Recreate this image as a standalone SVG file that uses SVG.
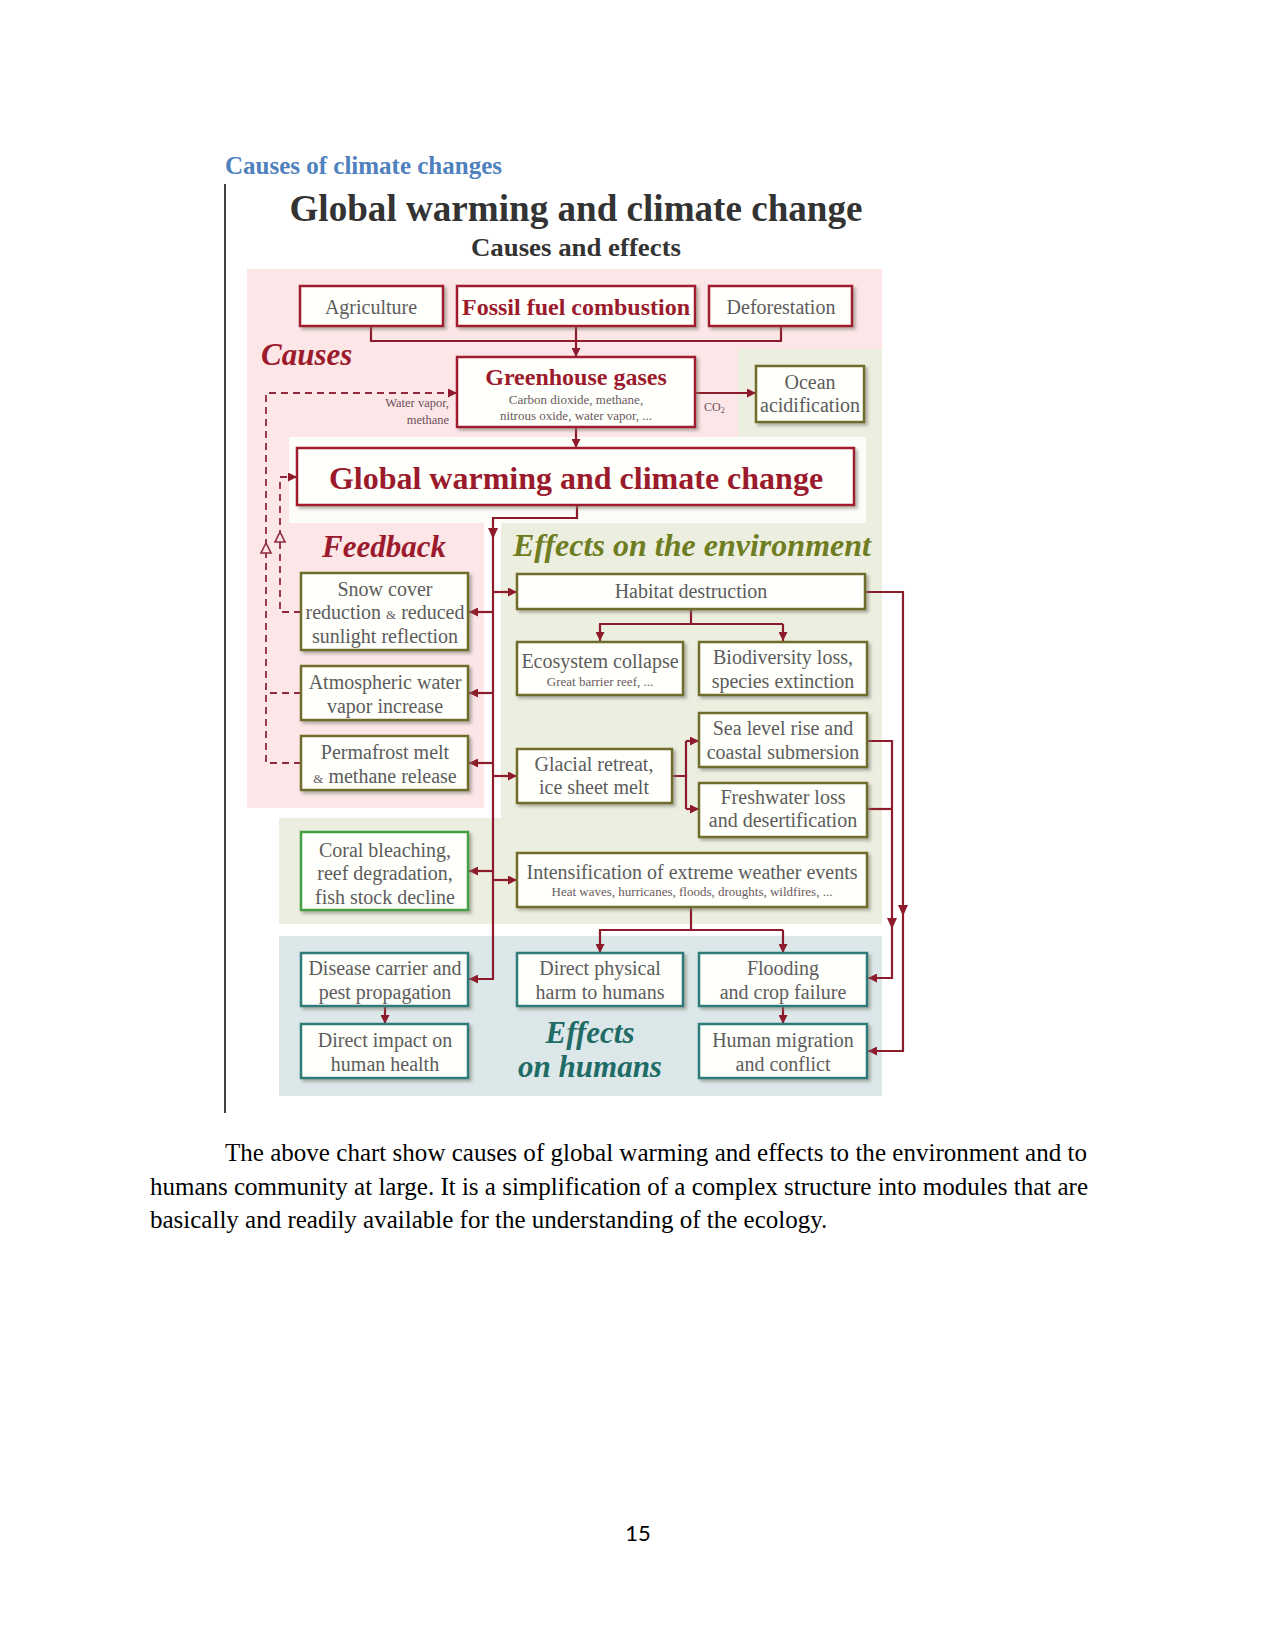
<svg xmlns="http://www.w3.org/2000/svg" width="1275" height="1650" viewBox="0 0 1275 1650">
<defs>
<style>
.bx{fill:#fffffb;stroke-width:2.5;filter:url(#sh)}
.red{stroke:#a01c2e}
.ol{stroke:#6f6c2c}
.gr{stroke:#45a043}
.tl{stroke:#2e7c7a}
.t{font-family:"Liberation Serif",serif;font-size:20px;fill:#5c5c5c;text-anchor:middle}
.s{font-family:"Liberation Serif",serif;font-size:13px;fill:#6a5a5e;text-anchor:middle}
.bt{font-family:"Liberation Serif",serif;font-weight:bold;fill:#9b1b2d;text-anchor:middle}
.sec{font-family:"Liberation Serif",serif;font-weight:bold;font-style:italic}
.c{fill:none;stroke:#8e1b2c;stroke-width:2.2}
.d{fill:none;stroke:#8e2a3c;stroke-width:1.8;stroke-dasharray:7 5}
.body{font-family:"Liberation Serif",serif;font-size:25px;fill:#000}
</style>
<filter id="sh" x="-5%" y="-5%" width="115%" height="130%">
<feDropShadow dx="2.5" dy="2.5" stdDeviation="1.4" flood-color="#77776a" flood-opacity="0.55"/>
</filter>
<marker id="a" viewBox="0 0 10 10" refX="10" refY="5" markerWidth="10" markerHeight="9" markerUnits="userSpaceOnUse" orient="auto">
<path d="M0,0 L10,5 L0,10 z" fill="#8e1b2c"/>
</marker>
</defs>
<rect width="1275" height="1650" fill="#fff"/>

<text x="225" y="174" font-family="'Liberation Serif',serif" font-weight="bold" font-size="25" fill="#4f81bd" textLength="277" lengthAdjust="spacingAndGlyphs">Causes of climate changes</text>
<line x1="225" y1="184" x2="225" y2="1113" stroke="#000" stroke-width="1.5"/>

<g id="panels">
<rect x="247" y="269" width="635" height="168" fill="#fce6e8"/>
<rect x="247" y="437" width="237" height="371" fill="#fce6e8"/>
<rect x="738" y="349" width="144" height="88" fill="#eceee0"/>
<rect x="866" y="437" width="16" height="86" fill="#eceee0"/>
<rect x="289" y="437" width="577" height="86" fill="#fcfcf8"/>
<rect x="501" y="523" width="381" height="401" fill="#eceee0"/>
<rect x="279" y="818" width="222" height="106" fill="#eceee0"/>
<rect x="279" y="936" width="603" height="160" fill="#dbe7e8"/>
</g>

<g id="titles">
<text x="576" y="221" font-family="'Liberation Serif',serif" font-weight="bold" font-size="37" fill="#333" text-anchor="middle" textLength="573" lengthAdjust="spacingAndGlyphs">Global warming and climate change</text>
<text x="576" y="256" font-family="'Liberation Serif',serif" font-weight="bold" font-size="26" fill="#333" text-anchor="middle" textLength="210" lengthAdjust="spacingAndGlyphs">Causes and effects</text>
<text class="sec" x="261" y="365" font-size="31" fill="#9b1b2d">Causes</text>
<text class="sec" x="322" y="557" font-size="31" fill="#9b1b2d">Feedback</text>
<text class="sec" x="513" y="556" font-size="32" fill="#6f7d22" textLength="358" lengthAdjust="spacingAndGlyphs">Effects on the environment</text>
<text class="sec" x="590" y="1043" font-size="31" fill="#1f6b66" text-anchor="middle">Effects</text>
<text class="sec" x="590" y="1077" font-size="31" fill="#1f6b66" text-anchor="middle">on humans</text>
</g>

<g id="connectors">
<path class="c" d="M371,326 V341 H781 V326"/>
<path class="c" d="M576,326 V357" marker-end="url(#a)"/>
<path class="c" d="M695,393 H756" marker-end="url(#a)"/>
<path class="c" d="M576,427 V448" marker-end="url(#a)"/>
<path class="c" d="M577,505 V518 H493 V979 H469" marker-end="url(#a)"/>
<polygon points="488,528 498,528 493,539" fill="#8e1b2c"/>
<path class="c" d="M493,612 H469" marker-end="url(#a)"/>
<path class="c" d="M493,693 H469" marker-end="url(#a)"/>
<path class="c" d="M493,763 H469" marker-end="url(#a)"/>
<path class="c" d="M493,871 H469" marker-end="url(#a)"/>
<path class="c" d="M493,592 H517" marker-end="url(#a)"/>
<path class="c" d="M493,776 H517" marker-end="url(#a)"/>
<path class="c" d="M493,880 H517" marker-end="url(#a)"/>
<path class="c" d="M691,609 V624 M599,624 H783"/>
<path class="c" d="M600,624 V641" marker-end="url(#a)"/>
<path class="c" d="M783,624 V641" marker-end="url(#a)"/>
<path class="c" d="M672,776 H686 M686,741 V809"/>
<path class="c" d="M686,741 H699" marker-end="url(#a)"/>
<path class="c" d="M686,809 H699" marker-end="url(#a)"/>
<path class="c" d="M691,907 V930 M599,930 H783"/>
<path class="c" d="M600,930 V953" marker-end="url(#a)"/>
<path class="c" d="M783,930 V953" marker-end="url(#a)"/>
<path class="c" d="M865,592 H903 V1051 H868" marker-end="url(#a)"/>
<polygon points="898,905 908,905 903,916" fill="#8e1b2c"/>
<path class="c" d="M867,741 H892 V978 H868" marker-end="url(#a)"/>
<path class="c" d="M867,809 H892"/>
<polygon points="887,918 897,918 892,929" fill="#8e1b2c"/>
<path class="c" d="M385,1006 V1024" marker-end="url(#a)"/>
<path class="c" d="M783,1006 V1024" marker-end="url(#a)"/>
<path class="d" d="M301,763 H266 V393 H457" marker-end="url(#a)"/>
<path class="d" d="M301,693 H266"/>
<path class="d" d="M301,612 H280 V477 H297" marker-end="url(#a)"/>
<polygon points="261,553 271,553 266,543" fill="#fce6e8" stroke="#8e2a3c" stroke-width="1.6"/>
<polygon points="275,542 285,542 280,532" fill="#fce6e8" stroke="#8e2a3c" stroke-width="1.6"/>
<text x="449" y="407" font-family="'Liberation Serif',serif" font-size="12.5" fill="#6d5058" text-anchor="end">Water vapor,</text>
<text x="449" y="424" font-family="'Liberation Serif',serif" font-size="12.5" fill="#6d5058" text-anchor="end">methane</text>
<text x="704" y="411" font-family="'Liberation Serif',serif" font-size="12" fill="#6d5058">CO<tspan font-size="8" dy="2">2</tspan></text>
</g>

<g id="agriculture"><rect class="bx red" x="300" y="286" width="143" height="40"/><text class="t" x="371" y="314">Agriculture</text></g>
<g id="fossil"><rect class="bx red" x="457" y="286" width="238" height="40"/><text class="bt" x="576" y="315" font-size="24">Fossil fuel combustion</text></g>
<g id="deforestation"><rect class="bx red" x="709" y="286" width="143" height="40"/><text class="t" x="781" y="314">Deforestation</text></g>
<g id="greenhouse"><rect class="bx red" x="457" y="357" width="238" height="70"/><text class="bt" x="576" y="385" font-size="24">Greenhouse gases</text><text class="s" x="576" y="404">Carbon dioxide, methane,</text><text class="s" x="576" y="420">nitrous oxide, water vapor, ...</text></g>
<g id="ocean"><rect class="bx ol" x="756" y="366" width="108" height="56"/><text class="t" x="810" y="389">Ocean</text><text class="t" x="810" y="412">acidification</text></g>
<g id="gw"><rect class="bx red" x="297" y="448" width="557" height="57"/><text class="bt" x="576" y="489" font-size="32">Global warming and climate change</text></g>

<g id="snow"><rect class="bx ol" x="301" y="573" width="167" height="77"/><text class="t" x="385" y="596">Snow cover</text><text class="t" x="385" y="619">reduction <tspan font-size="13">&amp;</tspan> reduced</text><text class="t" x="385" y="643">sunlight reflection</text></g>
<g id="atmos"><rect class="bx ol" x="301" y="666" width="167" height="54"/><text class="t" x="385" y="689">Atmospheric water</text><text class="t" x="385" y="713">vapor increase</text></g>
<g id="permafrost"><rect class="bx ol" x="301" y="736" width="167" height="54"/><text class="t" x="385" y="759">Permafrost melt</text><text class="t" x="385" y="783"><tspan font-size="13">&amp;</tspan> methane release</text></g>
<g id="coral"><rect class="bx gr" x="301" y="832" width="167" height="78"/><text class="t" x="385" y="857">Coral bleaching,</text><text class="t" x="385" y="880">reef degradation,</text><text class="t" x="385" y="904">fish stock decline</text></g>

<g id="habitat"><rect class="bx ol" x="517" y="574" width="348" height="35"/><text class="t" x="691" y="598">Habitat destruction</text></g>
<g id="ecosystem"><rect class="bx ol" x="517" y="642" width="166" height="53"/><text class="t" x="600" y="668">Ecosystem collapse</text><text class="s" x="600" y="686" font-size="12">Great barrier reef, ...</text></g>
<g id="biodiversity"><rect class="bx ol" x="699" y="642" width="168" height="53"/><text class="t" x="783" y="664">Biodiversity loss,</text><text class="t" x="783" y="688">species extinction</text></g>
<g id="sealevel"><rect class="bx ol" x="699" y="713" width="168" height="54"/><text class="t" x="783" y="735">Sea level rise and</text><text class="t" x="783" y="759">coastal submersion</text></g>
<g id="glacial"><rect class="bx ol" x="517" y="749" width="155" height="54"/><text class="t" x="594" y="771">Glacial retreat,</text><text class="t" x="594" y="794">ice sheet melt</text></g>
<g id="freshwater"><rect class="bx ol" x="699" y="783" width="168" height="54"/><text class="t" x="783" y="804">Freshwater loss</text><text class="t" x="783" y="827">and desertification</text></g>
<g id="intensification"><rect class="bx ol" x="517" y="853" width="350" height="54"/><text class="t" x="692" y="879">Intensification of extreme weather events</text><text class="s" x="692" y="896" font-size="12.5">Heat waves, hurricanes, floods, droughts, wildfires, ...</text></g>

<g id="disease"><rect class="bx tl" x="301" y="953" width="167" height="53"/><text class="t" x="385" y="975">Disease carrier and</text><text class="t" x="385" y="999">pest propagation</text></g>
<g id="directimpact"><rect class="bx tl" x="301" y="1024" width="167" height="54"/><text class="t" x="385" y="1047">Direct impact on</text><text class="t" x="385" y="1071">human health</text></g>
<g id="physical"><rect class="bx tl" x="517" y="953" width="166" height="53"/><text class="t" x="600" y="975">Direct physical</text><text class="t" x="600" y="999">harm to humans</text></g>
<g id="flooding"><rect class="bx tl" x="699" y="953" width="168" height="53"/><text class="t" x="783" y="975">Flooding</text><text class="t" x="783" y="999">and crop failure</text></g>
<g id="migration"><rect class="bx tl" x="699" y="1024" width="168" height="54"/><text class="t" x="783" y="1047">Human migration</text><text class="t" x="783" y="1071">and conflict</text></g>

<text class="body" x="225" y="1161" textLength="862" lengthAdjust="spacing">The above chart show causes of global warming and effects to the environment and to</text>
<text class="body" x="150" y="1195" textLength="938" lengthAdjust="spacing">humans community at large. It is a simplification of a complex structure into modules that are</text>
<text class="body" x="150" y="1228">basically and readily available for the understanding of the ecology.</text>
<text x="638" y="1541" font-family="Lato,'Open Sans',sans-serif" font-size="22" fill="#000" text-anchor="middle">15</text>
</svg>
